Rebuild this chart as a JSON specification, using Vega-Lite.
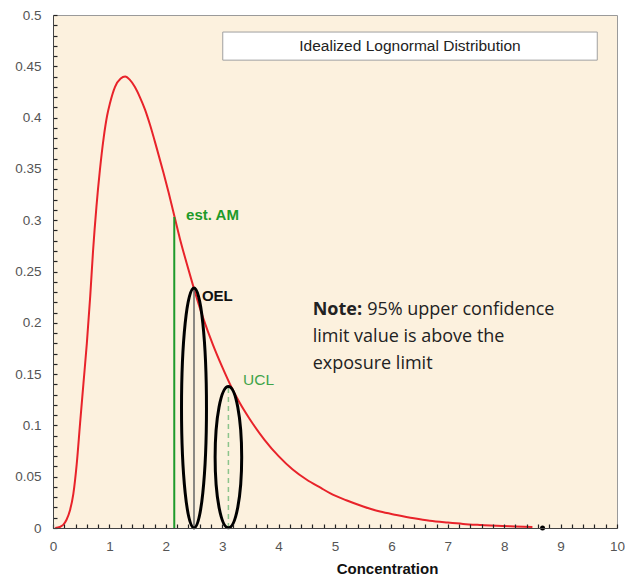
{
  "$schema": "https://vega.github.io/schema/vega-lite/v6.json",
  "width": 564,
  "height": 513,
  "autosize": "none",
  "padding": {"left": 53, "top": 15, "right": 8, "bottom": 47},
  "background": "white",
  "config": {
    "view": {"fill": "#fcf1de", "stroke": "#9a9a9a", "strokeWidth": 1},
    "font": "Liberation Sans"
  },
  "datasets": {
    "curve": [
      {"x": 0.04, "y": 0}, {"x": 0.12, "y": 0.001}, {"x": 0.18, "y": 0.003}, {"x": 0.24, "y": 0.008},
      {"x": 0.30, "y": 0.017}, {"x": 0.36, "y": 0.033}, {"x": 0.42, "y": 0.062}, {"x": 0.48, "y": 0.102},
      {"x": 0.54, "y": 0.141}, {"x": 0.60, "y": 0.180}, {"x": 0.66, "y": 0.226}, {"x": 0.71, "y": 0.270},
      {"x": 0.77, "y": 0.313}, {"x": 0.83, "y": 0.348}, {"x": 0.90, "y": 0.381}, {"x": 0.96, "y": 0.402},
      {"x": 1.01, "y": 0.414}, {"x": 1.10, "y": 0.430}, {"x": 1.20, "y": 0.438}, {"x": 1.28, "y": 0.440},
      {"x": 1.36, "y": 0.437}, {"x": 1.45, "y": 0.430}, {"x": 1.54, "y": 0.420}, {"x": 1.63, "y": 0.408},
      {"x": 1.72, "y": 0.393}, {"x": 1.84, "y": 0.370}, {"x": 1.96, "y": 0.346}, {"x": 2.05, "y": 0.327},
      {"x": 2.13, "y": 0.309}, {"x": 2.25, "y": 0.282}, {"x": 2.37, "y": 0.258}, {"x": 2.49, "y": 0.235},
      {"x": 2.66, "y": 0.205}, {"x": 2.84, "y": 0.178}, {"x": 3.00, "y": 0.157}, {"x": 3.14, "y": 0.140},
      {"x": 3.30, "y": 0.123}, {"x": 3.49, "y": 0.106}, {"x": 3.75, "y": 0.086}, {"x": 4.00, "y": 0.070},
      {"x": 4.25, "y": 0.057}, {"x": 4.50, "y": 0.047}, {"x": 4.75, "y": 0.039}, {"x": 4.91, "y": 0.034},
      {"x": 5.20, "y": 0.027}, {"x": 5.50, "y": 0.021}, {"x": 5.80, "y": 0.016}, {"x": 6.09, "y": 0.0127},
      {"x": 6.40, "y": 0.0095}, {"x": 6.68, "y": 0.0071}, {"x": 7.00, "y": 0.0053}, {"x": 7.27, "y": 0.0040},
      {"x": 7.60, "y": 0.0029}, {"x": 7.87, "y": 0.0021}, {"x": 8.20, "y": 0.0015}, {"x": 8.50, "y": 0.0010}
    ]
  },
  "encoding": {
    "x": {
      "field": "x", "type": "quantitative",
      "scale": {"domain": [0, 10], "nice": false, "zero": false},
      "axis": {
        "values": [0,0.2,0.4,0.6,0.8,1,1.2,1.4,1.6,1.8,2,2.2,2.4,2.6,2.8,3,3.2,3.4,3.6,3.8,4,4.2,4.4,4.6,4.8,5,5.2,5.4,5.6,5.8,6,6.2,6.4,6.6,6.8,7,7.2,7.4,7.6,7.8,8,8.2,8.4,8.6,8.8,9,9.2,9.4,9.6,9.8,10],
        "format": "~g",
        "labelExpr": "abs(datum.value - round(datum.value)) < 1e-6 ? datum.label : ''",
        "labelOverlap": false, "labelFlush": false, "zindex": 1,
        "grid": true, "gridColor": "#222", "gridWidth": 1.2, "gridOpacity": 1, "gridDash": [0, 509, 4, 2000],
        "ticks": false, "domainColor": "#444",
        "labelColor": "#555", "labelFontSize": 13.5, "labelPadding": 11,
        "title": "Concentration", "titleFontWeight": "bold", "titleFontSize": 15, "titleColor": "#111",
        "titleX": 334, "titleY": 40, "titleBaseline": "middle"
      }
    },
    "y": {
      "field": "y", "type": "quantitative",
      "scale": {"domain": [0, 0.5], "nice": false},
      "axis": {
        "values": [0,0.01,0.02,0.03,0.04,0.05,0.06,0.07,0.08,0.09,0.1,0.11,0.12,0.13,0.14,0.15,0.16,0.17,0.18,0.19,0.2,0.21,0.22,0.23,0.24,0.25,0.26,0.27,0.28,0.29,0.3,0.31,0.32,0.33,0.34,0.35,0.36,0.37,0.38,0.39,0.4,0.41,0.42,0.43,0.44,0.45,0.46,0.47,0.48,0.49,0.5],
        "format": "~g",
        "labelExpr": "abs(datum.value * 20 - round(datum.value * 20)) < 1e-6 ? datum.label : ''",
        "labelOverlap": false, "labelFlush": false, "zindex": 1,
        "grid": true, "gridColor": "#222", "gridWidth": 1.2, "gridOpacity": 1, "gridDash": [4, 2000],
        "ticks": false, "domainColor": "#444",
        "labelColor": "#555", "labelFontSize": 13.5, "labelPadding": 12,
        "title": null
      }
    }
  },
  "layer": [
    {
      "data": {"values": [{"x": 3.01, "x2": 9.65, "y": 0.456, "y2": 0.4834}]},
      "mark": {"type": "rect", "fill": "white", "stroke": "#a0a0a0", "strokeWidth": 1},
      "encoding": {"x2": {"field": "x2"}, "y2": {"field": "y2"}}
    },
    {
      "data": {"values": [{"x": 6.33, "y": 0.470, "text": "Idealized Lognormal Distribution"}]},
      "mark": {"type": "text", "align": "center", "baseline": "middle", "fontSize": 15.5, "color": "#222"},
      "encoding": {"text": {"field": "text"}}
    },
    {
      "data": {"name": "curve"},
      "mark": {"type": "line", "color": "#e8232a", "strokeWidth": 2, "interpolate": "monotone"}
    },
    {
      "data": {"values": [{"x": 2.15, "y": 0, "y2": 0.303}]},
      "mark": {"type": "rule", "color": "#1e9a2a", "strokeWidth": 2},
      "encoding": {"y2": {"field": "y2"}}
    },
    {
      "data": {"values": [{"x": 2.5, "y": 0, "y2": 0.234}]},
      "mark": {"type": "rule", "color": "#666666", "strokeWidth": 1.5},
      "encoding": {"y2": {"field": "y2"}}
    },
    {
      "data": {"values": [{"x": 3.11, "y": 0, "y2": 0.138}]},
      "mark": {"type": "rule", "color": "#8cc48c", "strokeWidth": 1.5, "strokeDash": [5, 4]},
      "encoding": {"y2": {"field": "y2"}}
    },
    {
      "data": {"values": [{"x": 2.5, "y": 0.117}]},
      "mark": {"type": "point", "filled": false, "opacity": 1, "stroke": "black", "strokeWidth": 3, "size": 57600,
        "shape": "M0,-1C0.0574,-1 0.104,-0.5523 0.104,0C0.104,0.5523 0.0574,1 0,1C-0.0574,1 -0.104,0.5523 -0.104,0C-0.104,-0.5523 -0.0574,-1 0,-1Z"}
    },
    {
      "data": {"values": [{"x": 3.11, "y": 0.069}]},
      "mark": {"type": "point", "filled": false, "opacity": 1, "stroke": "black", "strokeWidth": 3, "size": 19970,
        "shape": "M0,-1C0.1038,-1 0.188,-0.5523 0.188,0C0.188,0.5523 0.1038,1 0,1C-0.1038,1 -0.188,0.5523 -0.188,0C-0.188,-0.5523 -0.1038,-1 0,-1Z"}
    },
    {
      "data": {"values": [{"x": 8.68, "y": 0}]},
      "mark": {"type": "point", "filled": true, "opacity": 1, "color": "black", "size": 25}
    },
    {
      "data": {"values": [{"x": 2.36, "y": 0.305, "text": "est. AM"}]},
      "mark": {"type": "text", "align": "left", "baseline": "middle", "fontSize": 15, "fontWeight": "bold", "color": "#1e9a2a"},
      "encoding": {"text": {"field": "text"}}
    },
    {
      "data": {"values": [{"x": 2.64, "y": 0.226, "text": "OEL"}]},
      "mark": {"type": "text", "align": "left", "baseline": "middle", "fontSize": 15, "fontWeight": "bold", "color": "#111"},
      "encoding": {"text": {"field": "text"}}
    },
    {
      "data": {"values": [{"x": 3.37, "y": 0.144, "text": "UCL"}]},
      "mark": {"type": "text", "align": "left", "baseline": "middle", "fontSize": 15.5, "color": "#3fa44a"},
      "encoding": {"text": {"field": "text"}}
    },
    {
      "data": {"values": [{"x": 4.605, "y": 0.2125, "text": "Note:"}]},
      "mark": {"type": "text", "align": "left", "baseline": "middle", "fontSize": 18, "fontWeight": "bold", "font": "Open Sans", "color": "#222"},
      "encoding": {"text": {"field": "text"}}
    },
    {
      "data": {"values": [
        {"x": 5.57, "y": 0.2125, "text": "95% upper confidence"},
        {"x": 4.605, "y": 0.1862, "text": "limit value is above the"},
        {"x": 4.605, "y": 0.1598, "text": "exposure limit"}
      ]},
      "mark": {"type": "text", "align": "left", "baseline": "middle", "fontSize": 18, "font": "Open Sans", "color": "#222"},
      "encoding": {"text": {"field": "text"}}
    }
  ]
}
